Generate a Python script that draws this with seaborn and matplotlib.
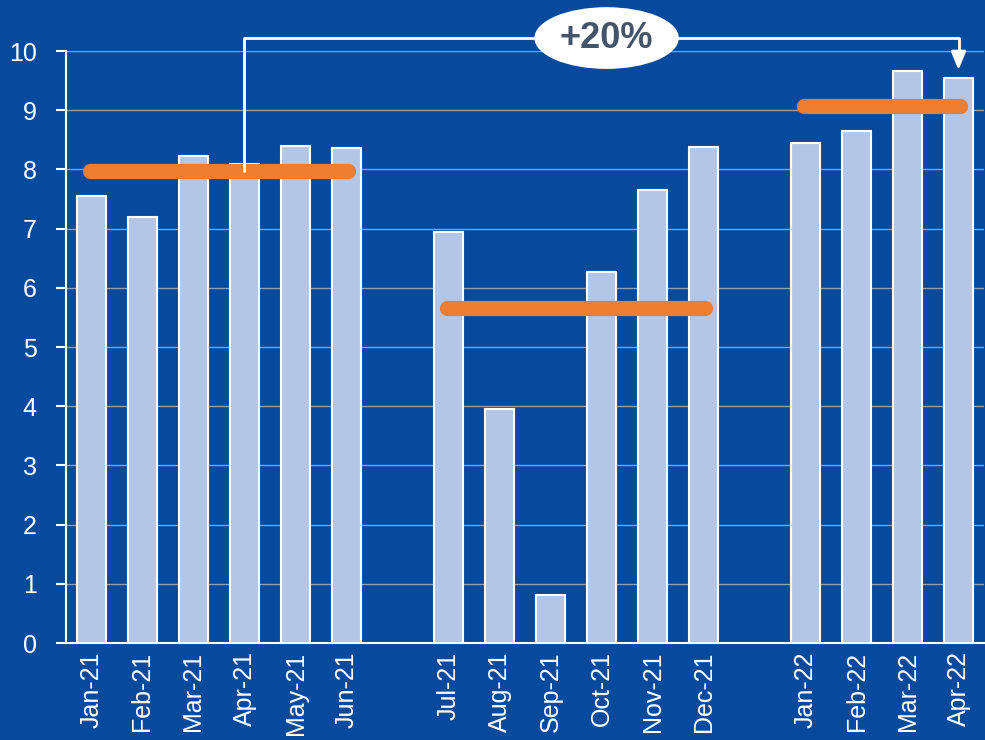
import pandas as pd
import matplotlib.pyplot as plt
import seaborn as sns

# data
months = ['Jan-21', 'Feb-21', 'Mar-21', 'Apr-21', 'May-21', 'Jun-21',
          'Jul-21', 'Aug-21', 'Sep-21', 'Oct-21', 'Nov-21', 'Dec-21',
          'Jan-22', 'Feb-22', 'Mar-22', 'Apr-22']
values = [7.55, 7.2, 8.22, 8.1, 8.4, 8.37,
          6.95, 3.95, 0.82, 6.27, 7.65, 8.38,
          8.45, 8.65, 9.67, 9.55]
# empty slots between the periods
slot_order = months[:6] + [' '] + months[6:12] + ['  '] + months[12:]
# period averages (orange lines): first month, last month, level
avg_first = ['Jan-21', 'Jul-21', 'Jan-22']
avg_last = ['Jun-21', 'Dec-21', 'Apr-22']
avg_level = [7.97, 5.66, 9.08]
change_label = '+20%'

BG = '#064a9e'
BAR = '#b4c6e7'
ORANGE = '#ed7d31'

sns.set_style('white')
plt.rcParams['font.family'] = ['Liberation Sans', 'DejaVu Sans']

df = pd.DataFrame({'month': months, 'value': values})

fig = plt.figure(figsize=(9.85, 7.4), dpi=100, facecolor=BG)
ax = fig.add_axes([0.067, 0.131, 0.932, 0.8])
ax.set_facecolor(BG)

sns.barplot(data=df, x='month', y='value', order=slot_order, color=BAR,
            width=0.55, edgecolor='white', linewidth=1.5, saturation=1, ax=ax, zorder=3)

pos = {m: i for i, m in enumerate(slot_order)}
for a, b, lvl in zip(avg_first, avg_last, avg_level):
    ax.plot([pos[a] - 0.02, pos[b] + 0.02], [lvl, lvl], color=ORANGE, lw=11,
            solid_capstyle='round', zorder=4)

# bracket from Apr-21 average up and over to Apr-22
top = 10.22
x0 = pos['Apr-21']
x1 = pos['Apr-22']
ax.plot([x0, x0, x1, x1], [avg_level[0], top, top, 9.9], color='white', lw=2,
        clip_on=False, zorder=5)
ax.annotate('', xy=(x1, 9.68), xytext=(x1, 9.95),
            arrowprops=dict(arrowstyle='-|>,head_width=0.45,head_length=1.1',
                            color='white', lw=2, shrinkA=0, shrinkB=0),
            annotation_clip=False, zorder=5)
ax.text(10.1, top, change_label, ha='center', va='center', fontsize=26,
        fontweight='bold', color='#44546a', zorder=6,
        bbox=dict(boxstyle='ellipse,pad=0.12', fc='white', ec='none'))

ax.set_xlim(-0.5, len(slot_order) - 0.5)
ax.set_ylim(0, 10)
ax.set_yticks(range(0, 11))
ax.yaxis.grid(True, color='#8d9dbb', lw=1)
ax.set_axisbelow(True)
ax.set_xlabel('')
ax.set_ylabel('')
ax.tick_params(axis='y', colors='white', labelsize=18, length=7, width=1.5,
               direction='out', left=True, pad=14)
ax.tick_params(axis='x', colors='white', labelsize=18, length=0, rotation=90, pad=6)
for lbl in ax.get_xticklabels():
    lbl.set_color('white')
sns.despine(ax=ax, top=True, right=True)
for s in ['left', 'bottom']:
    ax.spines[s].set_color('white')
    ax.spines[s].set_linewidth(1.5)

fig.savefig('out.png', dpi=100, facecolor=BG)
